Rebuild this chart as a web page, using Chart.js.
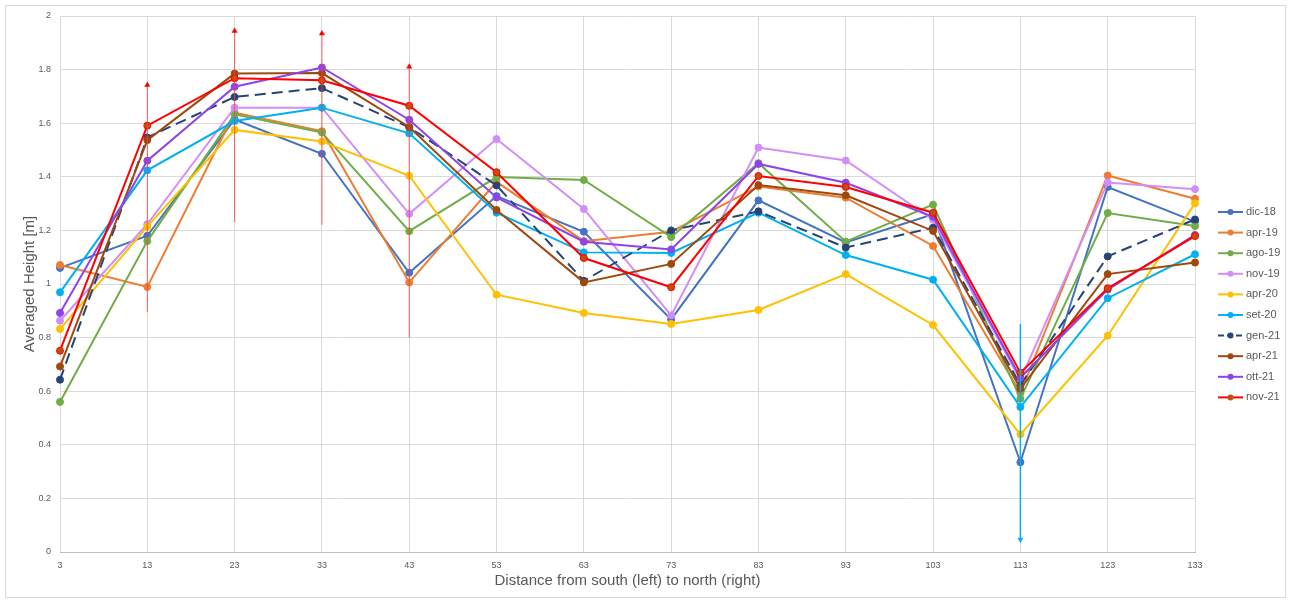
<!DOCTYPE html>
<html>
<head>
<meta charset="utf-8">
<script src="https://cdn.jsdelivr.net/npm/chart.js@4.4.1/dist/chart.umd.min.js"></script>
<style>
body{margin:0;background:#fff;}
</style>
</head>
<body>
<canvas id="heightChart" width="1290" height="600"></canvas>
<script>
// distanze lungo il profilo
var distances = ['3','13','23','33','43','53','63','73','83','93','103','113','123','133'];

var seriesNames = ['dic-18','apr-19','ago-19','nov-19','apr-20','set-20','gen-21','apr-21','ott-21','nov-21'];

var dic18 = [1.06, 1.18, 1.614, 1.486, 1.042, 1.328, 1.195, 0.868, 1.312, 1.155, 1.26, 0.335, 1.362, 1.233];
var apr19 = [1.071, 0.989, 1.639, 1.570, 1.006, 1.381, 1.160, 1.195, 1.364, 1.322, 1.142, 0.593, 1.405, 1.318];
var ago19 = [0.560, 1.160, 1.633, 1.565, 1.197, 1.399, 1.388, 1.175, 1.451, 1.158, 1.296, 0.572, 1.265, 1.216];
var nov19 = [0.863, 1.223, 1.658, 1.658, 1.262, 1.541, 1.280, 0.883, 1.509, 1.461, 1.240, 0.642, 1.379, 1.354];
var apr20 = [0.832, 1.214, 1.575, 1.532, 1.404, 0.960, 0.892, 0.851, 0.903, 1.037, 0.847, 0.439, 0.807, 1.301];
var set20 = [0.969, 1.424, 1.608, 1.658, 1.562, 1.266, 1.118, 1.116, 1.266, 1.108, 1.016, 0.541, 0.947, 1.111];
var gen21 = [0.643, 1.547, 1.698, 1.731, 1.585, 1.368, 1.012, 1.200, 1.271, 1.136, 1.210, 0.623, 1.103, 1.241];
var apr21 = [0.692, 1.537, 1.785, 1.787, 1.586, 1.276, 1.006, 1.075, 1.369, 1.331, 1.198, 0.609, 1.037, 1.080];
var ott21 = [0.892, 1.460, 1.736, 1.808, 1.613, 1.323, 1.158, 1.129, 1.448, 1.378, 1.251, 0.650, 0.979, 1.183];
var nov21 = [0.751, 1.591, 1.768, 1.760, 1.665, 1.417, 1.097, 0.988, 1.403, 1.362, 1.266, 0.669, 0.984, 1.179];

// barre verticali con freccia
var barX    = ['13','23','33','43','113'];
var barLow  = [0.895, 1.231, 1.221, 0.800, 0.047];
var barHigh = [1.743, 1.944, 1.935, 1.811, 0.851];

var yTicks = [0, 0.2, 0.4, 0.6, 0.8, 1, 1.2, 1.4, 1.6, 1.8, 2];

var allValues = [dic18, apr19, ago19, nov19, apr20, set20, gen21, apr21, ott21, nov21];
var colors = ['#4472C4','#ED7D31','#70AD47','#D38DF8','#FFC000','#00B0F0','#264478','#9E480E','#8E44E6','#FF0000'];

var datasets = [];
for(var i=0;i<seriesNames.length;i++){
    datasets.push({
        label: seriesNames[i],
        data: allValues[i],
        borderColor: colors[i],
        backgroundColor: colors[i],
        pointBackgroundColor: i==9 ? '#C0500A' : colors[i],
        pointBorderColor: colors[i],
        pointBorderWidth: 1,
        pointRadius: 3.5,
        borderWidth: 2,
        borderDash: i==6 ? [11,6] : [],
        tension: 0,
        order: 20 - i
    });
}

for(var j=0;j<barX.length;j++){
    var isBlue = barX[j]=='113';
    datasets.push({
        label: '_bar',
        data: [{x: barX[j], y: barLow[j]}, {x: barX[j], y: barHigh[j]}],
        borderColor: isBlue ? '#00B0F0' : 'rgba(255,60,60,0.8)',
        backgroundColor: isBlue ? '#00B0F0' : '#FF0000',
        pointBorderWidth: 0,
        borderWidth: isBlue ? 1.5 : 1,
        pointStyle: 'triangle',
        pointRadius: isBlue ? [3.5, 0] : [0, 3.5],
        pointRotation: isBlue ? 180 : 0,
        order: 0
    });
}

var textColor = '#595959';

var extras = {
    id: 'extras',
    beforeDraw: function(chart){
        var c = chart.ctx;
        c.save();
        c.fillStyle = '#fff';
        c.fillRect(0,0,chart.width,chart.height);
        c.strokeStyle = '#D9D9D9';
        c.lineWidth = 1;
        c.strokeRect(5.5,5.5,1280,592);
        c.restore();
    },
    afterDraw: function(chart){
        var c = chart.ctx;
        var area = chart.chartArea;
        c.save();
        c.fillStyle = textColor;
        c.font = '15px "Liberation Sans", sans-serif';
        c.textAlign = 'center';
        c.textBaseline = 'middle';
        c.fillText('Distance from south (left) to north (right)', (area.left+area.right)/2, 581);
        c.translate(30, (area.top+area.bottom)/2);
        c.rotate(-Math.PI/2);
        c.fillText('Averaged Height [m]', 0, 0);
        c.restore();

        // legenda a destra
        c.save();
        c.font = '11px "Liberation Sans", sans-serif';
        c.textBaseline = 'middle';
        c.textAlign = 'left';
        for(var k=0;k<seriesNames.length;k++){
            var ds = chart.data.datasets[k];
            var yy = 212 + k*20.6;
            c.strokeStyle = ds.borderColor;
            c.lineWidth = 2;
            c.setLineDash(k==6 ? [6,3] : []);
            c.beginPath();
            c.moveTo(1218, yy);
            c.lineTo(1243, yy);
            c.stroke();
            c.setLineDash([]);
            c.fillStyle = ds.pointBackgroundColor;
            c.beginPath();
            c.arc(1230.5, yy, 3, 0, Math.PI*2);
            c.fill();
            c.fillStyle = textColor;
            c.fillText(seriesNames[k], 1246, yy);
        }
        c.restore();
    }
};

var ctx = document.getElementById('heightChart').getContext('2d');
var heightChart = new Chart(ctx, {
    type: 'line',
    data: {labels: distances, datasets: datasets},
    options: {
        responsive: false,
        animation: false,
        layout: {padding: {left: 5, right: 95, top: 16, bottom: 8}},
        plugins: {legend: {display: false}, tooltip: {enabled: false}},
        scales: {
            x: {
                type: 'category',
                offset: false,
                grid: {color: '#D9D9D9', tickLength: 0},
                border: {color: '#BFBFBF'},
                ticks: {color: textColor, font: {size: 9, family: '"Liberation Sans", sans-serif'}, padding: 8, maxRotation: 0, autoSkip: false},
                afterFit: function(scale){ scale.height = 40; }
            },
            y: {
                min: 0,
                max: 2,
                grid: {color: '#D9D9D9', tickLength: 0},
                border: {display: false},
                afterBuildTicks: function(scale){
                    scale.ticks = yTicks.map(function(v){ return {value: v}; });
                },
                ticks: {
                    color: textColor,
                    font: {size: 9, family: '"Liberation Sans", sans-serif'},
                    padding: 9,
                    callback: function(v){ return String(+v.toFixed(1)); }
                },
                afterFit: function(scale){ scale.width = 55; }
            }
        }
    },
    plugins: [extras]
});
</script>
</body>
</html>
